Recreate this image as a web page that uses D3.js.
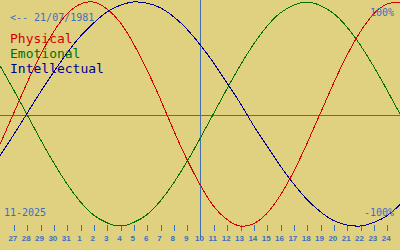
<!DOCTYPE html>
<html>
<head>
<meta charset="utf-8">
<script src="https://cdn.jsdelivr.net/npm/d3@7"></script>
<style>
  html, body { margin: 0; padding: 0; background: #e0d181; }
  svg { display: block; }
</style>
</head>
<body>
<svg id="chart" width="400" height="250"></svg>
<script>
// Day labels for each sampled day (index 0 = 26 Oct, 15 = today 10 Nov, 30 = 25 Nov)
const days = ["26","27","28","29","30","31","1","2","3","4","5","6","7","8","9","10",
  "11","12","13","14","15","16","17","18","19","20","21","22","23","24","25"];
const todayIndex = 15;
const physical = [-0.27, 0, 0.27, 0.52, 0.73, 0.89, 0.98, 1.00, 0.94, 0.82, 0.63, 0.40, 0.14, -0.14, -0.40, -0.63,
  -0.82, -0.94, -1.00, -0.98, -0.89, -0.73, -0.52, -0.27, 0, 0.27, 0.52, 0.73, 0.89, 0.98, 1.00];
const emotional = [0.43, 0.22, 0, -0.22, -0.43, -0.62, -0.78, -0.90, -0.97, -1.00, -0.97, -0.90, -0.78, -0.62, -0.43, -0.22,
  0, 0.22, 0.43, 0.62, 0.78, 0.90, 0.97, 1.00, 0.97, 0.90, 0.78, 0.62, 0.43, 0.22, 0];
const intellectual = [-0.37, -0.19, 0, 0.19, 0.37, 0.54, 0.69, 0.81, 0.91, 0.97, 1.00, 0.99, 0.95, 0.87, 0.76, 0.62,
  0.46, 0.28, 0.10, -0.10, -0.28, -0.46, -0.62, -0.76, -0.87, -0.95, -0.99, -1.00, -0.97, -0.91, -0.81];
const seriesNames = ["Physical", "Emotional", "Intellectual"];
const seriesColors = ["#d40000", "#007000", "#000090"];
const birthLabel = "<-- 21/07/1981";
const monthLabel = "11-2025";
const topLabel = "100%";
const bottomLabel = "-100%";

const W = 400, H = 250;
const textBlue = "#3a6fc2";
const lineBlue = "#3f6fae";
const mono = "'DejaVu Sans Mono', monospace";

const svg = d3.select("#chart");
svg.append("rect").attr("width", W).attr("height", H).attr("fill", "#e0d181");

const x = d3.scaleLinear().domain([0, 30]).range([0, 400]);
const y = d3.scaleLinear().domain([-1, 1]).range([226, 2]);

// midline
svg.append("line").attr("x1", 0).attr("x2", W)
  .attr("y1", 115.5).attr("y2", 115.5)
  .attr("stroke", lineBlue).attr("stroke-width", 1).attr("shape-rendering", "crispEdges");

// today line
svg.append("line")
  .attr("x1", Math.round(x(todayIndex)) + 0.5).attr("x2", Math.round(x(todayIndex)) + 0.5)
  .attr("y1", 0).attr("y2", 240)
  .attr("stroke", lineBlue).attr("stroke-width", 1).attr("shape-rendering", "crispEdges");

// axis ticks & labels
const axis = d3.axisBottom(x)
  .tickValues(d3.range(1, 30))
  .tickFormat(i => days[i])
  .tickSize(6)
  .tickPadding(4);
const ax = svg.append("g").attr("transform", "translate(0,225)").call(axis);
ax.select(".domain").remove();
ax.selectAll(".tick line").attr("stroke", textBlue).attr("shape-rendering", "crispEdges")
  .attr("transform", "translate(0.5,0)")
  .attr("opacity", i => i === todayIndex ? 0 : 1);
ax.selectAll(".tick text")
  .attr("fill", textBlue)
  .attr("font-family", "'Liberation Sans', sans-serif")
  .attr("font-weight", "bold")
  .attr("font-size", 8)
  .attr("dx", -1);

// curves
const series = [physical, emotional, intellectual];
const line = d3.line().x((d, i) => x(i)).y(d => y(d)).curve(d3.curveNatural);
series.forEach((s, k) => {
  svg.append("path").datum(s).attr("d", line)
    .attr("fill", "none").attr("stroke", seriesColors[k]).attr("stroke-width", 1)
    .attr("shape-rendering", "crispEdges");
});

// texts
svg.append("text").attr("x", 10).attr("y", 21).text(birthLabel)
  .attr("fill", textBlue).attr("font-family", mono).attr("font-size", 10);
seriesNames.forEach((n, k) => {
  svg.append("text").attr("x", 10).attr("y", 43 + k * 15).text(n)
    .attr("fill", seriesColors[k]).attr("font-family", mono).attr("font-size", 13);
});
svg.append("text").attr("x", 394).attr("y", 16).attr("text-anchor", "end").text(topLabel)
  .attr("fill", textBlue).attr("font-family", mono).attr("font-size", 10);
svg.append("text").attr("x", 394).attr("y", 216).attr("text-anchor", "end").text(bottomLabel)
  .attr("fill", textBlue).attr("font-family", mono).attr("font-size", 10);
svg.append("text").attr("x", 4).attr("y", 216).text(monthLabel)
  .attr("fill", textBlue).attr("font-family", mono).attr("font-size", 10);
</script>
</body>
</html>
